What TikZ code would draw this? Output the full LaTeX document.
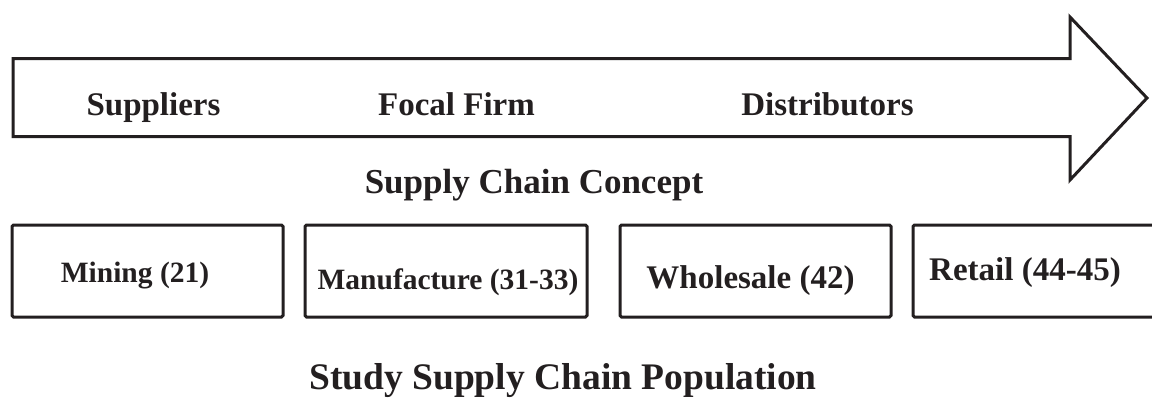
\documentclass[tikz,border=0pt]{standalone}
\usepackage{fontspec}
\setmainfont{Liberation Serif}
\definecolor{ink}{RGB}{35,31,32}
\begin{document}
\begin{tikzpicture}[x=1pt,y=-1pt,
  outline/.style={draw=ink,line width=3pt,line join=miter},
  boxst/.style={draw=ink,line width=3pt,rounded corners=1.5pt,inner sep=0pt},
  lblA/.style={text=ink,font=\fontsize{33}{38}\selectfont\bfseries,anchor=base,inner sep=0pt},
  lblB/.style={text=ink,font=\fontsize{29.5}{34}\selectfont\bfseries,anchor=base,inner sep=0pt},
  ttl/.style={text=ink,font=\fontsize{35}{40}\selectfont\bfseries,anchor=base,inner sep=0pt},
  ttlB/.style={text=ink,font=\fontsize{37.5}{42}\selectfont\bfseries,anchor=base,inner sep=0pt}]
\useasboundingbox (0,0) rectangle (1152,397);
\clip (0,0) rectangle (1152,397);
% big arrow
\draw[outline] (13,58.5) -- (1070,58.5) -- (1070,17) -- (1147,98) -- (1070,180) -- (1070,136.5) -- (13,136.5) -- cycle;
\node[lblA] (sup) at (153.5,115) {Suppliers};
\node[lblA] (focal) at (456.5,115) {Focal Firm};
\node[lblA] (dist) at (827.5,115) {Distributors};
\node[ttl] (concept) at (534,193) {Supply Chain Concept};
% boxes
\node[boxst,minimum width=271pt,minimum height=92pt] (b1) at (147.5,271) {};
\node[boxst,minimum width=282pt,minimum height=92pt] (b2) at (446,271) {};
\node[boxst,minimum width=271pt,minimum height=92pt] (b3) at (755.5,271) {};
\node[boxst,minimum width=260pt,minimum height=92pt] (b4) at (1043,271) {};
\node[lblB] (mining) at (135,282) {Mining (21)};
\node[lblB] (manu) at (448,289) {Manufacture (31-33)};
\node[lblA] (whole) at (750.5,288) {Wholesale (42)};
\node[lblA] (retail) at (1025,280) {Retail (44-45)};
\node[ttlB] (pop) at (563,389) {Study Supply Chain Population};
\end{tikzpicture}
\end{document}
